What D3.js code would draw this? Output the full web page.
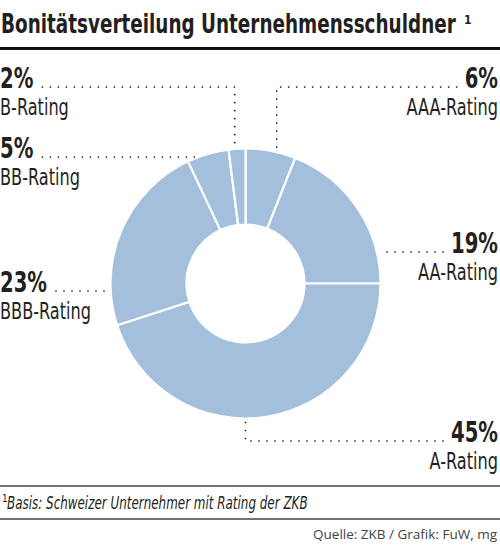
<!DOCTYPE html>
<html>
<head>
<meta charset="utf-8">
<script src="https://cdn.jsdelivr.net/npm/d3@7"></script>
<style>
  body { margin: 0; background: #fff; }
  svg text { font-family: "Liberation Sans Narrow", "DejaVu Sans Condensed", "Roboto Condensed", sans-serif; font-stretch: condensed; fill: #231f20; }
</style>
</head>
<body>
<script>
// data
var ratings = ['AAA-Rating', 'AA-Rating', 'A-Rating', 'BBB-Rating', 'BB-Rating', 'B-Rating'];
var shares = [6, 19, 45, 23, 5, 2];
var pctLabels = ['6%', '19%', '45%', '23%', '5%', '2%'];

// label layout: side, baseline of the % label, and (for vertical leaders) the angle it hangs from
var labelSide = ['right', 'right', 'right', 'left', 'left', 'left'];
var labelY = [88, 253, 442, 292, 158, 88];
var leaderAngle = [13.5, null, 180, null, null, -4.6];

var W = 500, H = 545;
var cx = 245.5, cy = 283.5, rOuter = 135, rInner = 59;
var sx = 0.78; // squeeze to imitate a condensed face

var svg = d3.select('body').append('svg').attr('width', W).attr('height', H);

// puts a squeezed text at x (anchor start/end), returns its drawn width
function squeezed(parent, x, y, anchor, k) {
  return parent.append('text')
    .attr('transform', 'scale(' + k + ',1)')
    .attr('x', x / k).attr('y', y)
    .attr('text-anchor', anchor);
}

// title
var title = squeezed(svg, 1, 33, 'start', 1)
  .attr('font-size', 26).attr('font-weight', 'bold')
  .text('Bonitätsverteilung Unternehmensschuldner');
var tk = 455 / title.node().getComputedTextLength();
title.attr('transform', 'scale(' + tk + ',1)').attr('x', 1 / tk);
svg.append('text').attr('x', 464).attr('y', 24)
  .attr('font-size', 12).attr('font-weight', 'bold').text('1');

svg.append('line').attr('x1', 0).attr('x2', W).attr('y1', 48.5).attr('y2', 48.5)
  .attr('stroke', '#111').attr('stroke-width', 3);

// donut
var pie = d3.pie().sort(null).value(function(d) { return d; });
var arc = d3.arc().innerRadius(rInner).outerRadius(rOuter);
var arcs = pie(shares);

var g = svg.append('g').attr('transform', 'translate(' + cx + ',' + cy + ')');
g.selectAll('path').data(arcs).enter().append('path')
  .attr('d', arc)
  .attr('fill', '#a3bfdc')
  .attr('stroke', '#fff')
  .attr('stroke-width', 2.2)
  .attr('stroke-linejoin', 'miter');

// labels + leaders
var lines = svg.append('g');
var labels = svg.append('g');
var rEdge = rOuter - 1;

arcs.forEach(function(a, i) {
  var right = labelSide[i] === 'right';
  var x = right ? 498 : 0;
  var y = labelY[i];
  var anchor = right ? 'end' : 'start';

  var pct = squeezed(labels, x, y, anchor, sx)
    .attr('font-size', 28).attr('font-weight', 'bold')
    .text(pctLabels[i]);
  squeezed(labels, x, y + 27, anchor, sx)
    .attr('font-size', 23)
    .text(ratings[i]);

  var tw = pct.node().getComputedTextLength() * sx;
  var textEnd = right ? x - tw - 8 : x + tw + 9;
  var ly = y - 1;
  var pts;
  if (leaderAngle[i] !== null) {
    var ang = leaderAngle[i] * Math.PI / 180;
    var ax = cx + rEdge * Math.sin(ang);
    var ay = cy - rEdge * Math.cos(ang);
    var down = ay > ly;
    pts = [[textEnd, ly], [ax, ly], [ax, ay + (down ? -3 : 4)]];
  } else {
    var dx = Math.sqrt(rEdge * rEdge - (ly - cy) * (ly - cy));
    var ex = right ? cx + dx + 4 : cx - dx - 4;
    pts = [[textEnd, ly], [ex, ly]];
  }
  lines.append('path')
    .attr('d', d3.line()(pts))
    .attr('fill', 'none')
    .attr('stroke', '#111')
    .attr('stroke-width', 1.7)
    .attr('stroke-linecap', 'round')
    .attr('stroke-dasharray', '0,8');
});

// footnote
svg.append('line').attr('x1', 0).attr('x2', W).attr('y1', 486).attr('y2', 486)
  .attr('stroke', '#444').attr('stroke-width', 1.3);
svg.append('text').attr('x', 2).attr('y', 502).attr('font-size', 10).text('1');
var foot = squeezed(svg, 7, 509, 'start', 1)
  .attr('font-size', 18).attr('font-style', 'italic')
  .text('Basis: Schweizer Unternehmer mit Rating der ZKB');
var fk = 301 / foot.node().getComputedTextLength();
foot.attr('transform', 'scale(' + fk + ',1)').attr('x', 7 / fk);
svg.append('line').attr('x1', 0).attr('x2', W).attr('y1', 519).attr('y2', 519)
  .attr('stroke', '#444').attr('stroke-width', 1.3);

svg.append('text').attr('x', 497).attr('y', 539)
  .attr('text-anchor', 'end')
  .style('font-family', '"Open Sans", "Noto Sans", sans-serif')
  .style('font-stretch', 'normal')
  .style('fill', '#444')
  .attr('font-size', 13.5)
  .text('Quelle: ZKB / Grafik: FuW, mg');
</script>
</body>
</html>
